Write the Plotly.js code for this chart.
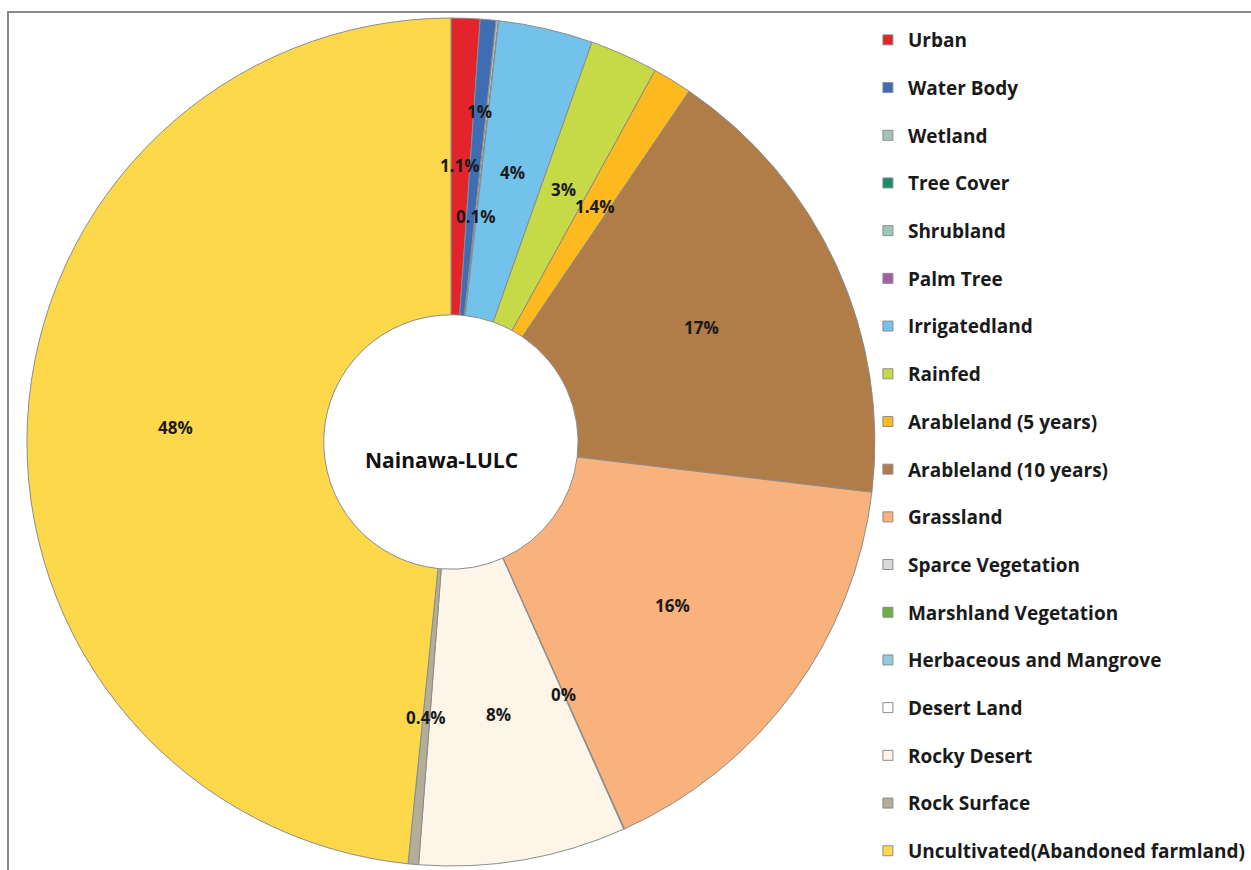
<!DOCTYPE html>
<html>
<head>
<meta charset="utf-8">
<script src="https://cdn.plot.ly/plotly-3.0.1.min.js"></script>
<style>html,body{margin:0;padding:0;background:#fff;}#chart{width:1251px;height:870px;}</style>
</head>
<body>
<div id="chart"></div>
<script>
const categories = ["Urban","Water Body","Wetland","Tree Cover","Shrubland","Palm Tree","Irrigatedland","Rainfed","Arableland (5 years)","Arableland (10 years)","Grassland","Sparce Vegetation","Marshland Vegetation","Herbaceous and Mangrove","Desert Land","Rocky Desert","Rock Surface","Uncultivated(Abandoned farmland)"];
const values = [1.1, 0.6, 0.1, 0, 0, 0, 3.6, 2.6, 1.5, 17.4, 16.4, 0.03, 0, 0, 0, 7.9, 0.4, 48.4];
const valueLabels = ["1.1%","1%","0.1%","","","","4%","3%","1.4%","17%","16%","0%","","","","8%","0.4%","48%"];
const colors = ["#E3242B","#3F6DB4","#A9C2B8","#1E8A6C","#9CC8B6","#A05FA2","#72C2EC","#C6D946","#FDB91E","#B07C48","#F9B27B","#D9D9D9","#6DAE45","#92CCDA","#FFFFFF","#FDF5E7","#B3AE98","#FDD84A"];
const centerTitle = "Nainawa-LULC";

const W = 1251, H = 870;
const FONT = "'Open Sans', 'DejaVu Sans', sans-serif";

// pie geometry (domain in pixels)
const PX0 = 27, PX1 = 877, PY0 = 17, PY1 = 867;
const HOLE = 0.30;
const cxPx = (PX0 + PX1) / 2, cyPx = (PY0 + PY1) / 2;
const R = Math.min(PX1 - PX0, PY1 - PY0) / 2;
const labelR = R * (1 + HOLE) / 2;
// radial nudges for crowded thin slices (style only)
const radialNudge = {"Water Body": 1.2, "Wetland": 0.82};

const traces = [{
  type: 'pie',
  labels: categories,
  values: values,
  textinfo: 'none',
  sort: false,
  direction: 'clockwise',
  rotation: 0,
  hole: HOLE,
  marker: {colors: colors, line: {color: '#8c8c8c', width: 1}},
  showlegend: false,
  hoverinfo: 'none',
  domain: {x: [PX0 / W, PX1 / W], y: [1 - PY1 / H, 1 - PY0 / H]}
}];

categories.forEach(function (c, i) {
  traces.push({
    type: 'scatter', mode: 'markers', x: [null], y: [null],
    name: c, legendgroup: 'g' + i, showlegend: true, hoverinfo: 'none',
    marker: {symbol: 'square', size: 10, color: colors[i], line: {color: '#8c8c8c', width: 1}}
  });
});

// slice labels placed at each slice's mid-angle, computed from the values
const total = values.reduce(function (a, b) { return a + b; }, 0);
const annotations = [];
let cum = 0;
values.forEach(function (v, i) {
  const mid = (cum + v / 2) / total * 2 * Math.PI;
  cum += v;
  if (!valueLabels[i]) return;
  const r = labelR * (radialNudge[categories[i]] || 1);
  const xp = cxPx + r * Math.sin(mid);
  const yp = cyPx - r * Math.cos(mid);
  annotations.push({
    xref: 'paper', yref: 'paper', x: xp / W, y: 1 - yp / H,
    xanchor: 'center', yanchor: 'middle', showarrow: false,
    text: valueLabels[i],
    font: {family: FONT, size: 17, color: '#1a1a1a', weight: 'bold'}
  });
});

// centre label (sits slightly below-left of the hole centre in the reference)
annotations.push({
  xref: 'paper', yref: 'paper', x: (cxPx - 9) / W, y: 1 - (cyPx + 18) / H,
  xanchor: 'center', yanchor: 'middle', showarrow: false,
  text: centerTitle,
  font: {family: FONT, size: 21, color: '#111', weight: 'bold'}
});

const layout = {
  width: W, height: H,
  margin: {l: 0, r: 0, t: 0, b: 0},
  paper_bgcolor: '#fff', plot_bgcolor: 'rgba(0,0,0,0)',
  xaxis: {visible: false}, yaxis: {visible: false},
  showlegend: true,
  legend: {
    x: 870 / W, y: 1 - 27 / H, xanchor: 'left', yanchor: 'top',
    traceorder: 'grouped', tracegroupgap: 20,
    font: {family: FONT, size: 19, color: '#1a1a1a', weight: 'bold'},
    bgcolor: 'rgba(0,0,0,0)', itemclick: false, itemdoubleclick: false
  },
  annotations: annotations,
  shapes: [{
    type: 'rect', xref: 'paper', yref: 'paper',
    x0: 8 / W, x1: 1.02, y0: -0.02, y1: 1 - 12 / H,
    line: {color: '#8a8a8a', width: 2}, fillcolor: 'rgba(0,0,0,0)', layer: 'below'
  }]
};

Plotly.newPlot('chart', traces, layout, {displayModeBar: false, staticPlot: true});
</script>
</body>
</html>
